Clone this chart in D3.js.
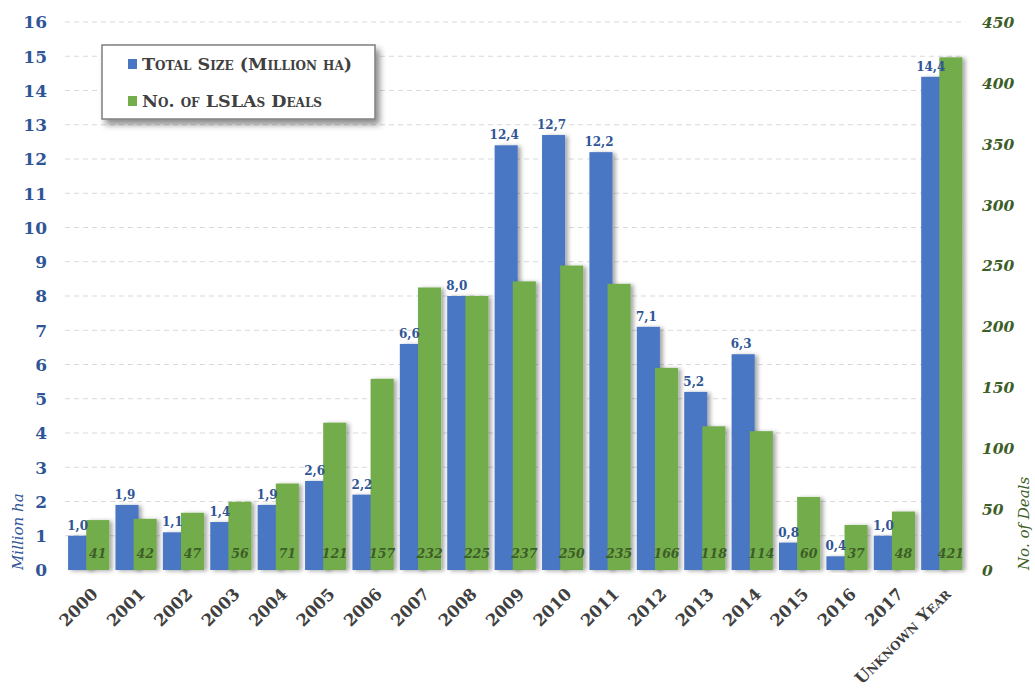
<!DOCTYPE html>
<html>
<head>
<meta charset="utf-8">
<script src="https://cdn.jsdelivr.net/npm/d3@7"></script>
<style>
  html, body { margin: 0; padding: 0; background: #ffffff; }
  svg { display: block; }
</style>
</head>
<body>
<svg id="chart" width="1035" height="688"></svg>
<script>
// Large-scale land acquisitions per year
const years = ["2000","2001","2002","2003","2004","2005","2006","2007","2008","2009",
               "2010","2011","2012","2013","2014","2015","2016","2017","Unknown Year"];
const sizeMillionHa = [1.0,1.9,1.1,1.4,1.9,2.6,2.2,6.6,8.0,12.4,12.7,12.2,7.1,5.2,6.3,0.8,0.4,1.0,14.4];
const dealCounts = [41,42,47,56,71,121,157,232,225,237,250,235,166,118,114,60,37,48,421];
const leftTicks = d3.range(0, 17);
const rightTicks = d3.range(0, 451, 50);
const seriesNames = ["Total Size (Million ha)", "No. of LSLAs Deals"];

const blue = "#4a77c4", green = "#73ad4c";
const blueText = "#2f5597", greenText = "#3d5e27", darkText = "#404040";
const serif = "'DejaVu Serif', serif";

const svg = d3.select("#chart");
const plotLeft = 65, plotRight = 965.5;
const y0 = 570, yTop = 22;

const defs = svg.append("defs");
const sh = defs.append("filter").attr("id", "barShadow")
  .attr("x", "-30%").attr("y", "-10%").attr("width", "180%").attr("height", "130%");
sh.append("feDropShadow").attr("dx", 3).attr("dy", 1).attr("stdDeviation", 2)
  .attr("flood-color", "#000").attr("flood-opacity", 0.35);
const lsh = defs.append("filter").attr("id", "boxShadow")
  .attr("x", "-10%").attr("y", "-20%").attr("width", "130%").attr("height", "160%");
lsh.append("feDropShadow").attr("dx", 4).attr("dy", 5).attr("stdDeviation", 3)
  .attr("flood-color", "#000").attr("flood-opacity", 0.45);

const x = d3.scaleBand().domain(years).range([plotLeft, plotRight]).paddingInner(0.13).paddingOuter(0.065);
const yL = d3.scaleLinear().domain([0, 16]).range([y0, yTop]);
const yR = d3.scaleLinear().domain([0, 450]).range([y0, yTop]);

// gridlines
svg.append("g").selectAll("line").data(leftTicks.filter(d => d > 0)).join("line")
  .attr("x1", plotLeft).attr("x2", plotRight)
  .attr("y1", d => yL(d)).attr("y2", d => yL(d))
  .attr("stroke", "#d9d9d9").attr("stroke-width", 1).attr("stroke-dasharray", "5,4");

// baseline
svg.append("line").attr("x1", plotLeft).attr("x2", plotRight)
  .attr("y1", y0 + 0.5).attr("y2", y0 + 0.5)
  .attr("stroke", "#bfbfbf").attr("stroke-width", 2).attr("filter", "url(#barShadow)");

// bars: green overlaps the right part of blue
const bw = x.bandwidth();
const barW = bw * 0.56;
const offs = bw - barW;
const groups = svg.append("g").selectAll("g").data(years).join("g");
groups.append("rect")
  .attr("x", d => x(d)).attr("width", barW)
  .attr("y", (d, i) => yL(sizeMillionHa[i]))
  .attr("height", (d, i) => y0 - yL(sizeMillionHa[i]))
  .attr("fill", blue).attr("filter", "url(#barShadow)");
groups.append("rect")
  .attr("x", d => x(d) + offs).attr("width", barW)
  .attr("y", (d, i) => yR(dealCounts[i]))
  .attr("height", (d, i) => y0 - yR(dealCounts[i]))
  .attr("fill", green).attr("filter", "url(#barShadow)");

// value labels
const fmt = v => v.toFixed(1).replace(".", ",");
svg.append("g").selectAll("text").data(years).join("text")
  .attr("x", d => x(d) + offs / 2 + 0.5)
  .attr("y", (d, i) => yL(sizeMillionHa[i]) - 6)
  .attr("text-anchor", "middle")
  .attr("font-family", serif).attr("font-weight", "bold").attr("font-size", 12)
  .attr("fill", blueText)
  .text((d, i) => fmt(sizeMillionHa[i]));
svg.append("g").selectAll("text").data(years).join("text")
  .attr("x", d => x(d) + offs + barW / 2)
  .attr("y", y0 - 12)
  .attr("text-anchor", "middle")
  .attr("font-family", serif).attr("font-style", "italic").attr("font-weight", "bold").attr("font-size", 12.5)
  .attr("fill", greenText)
  .text((d, i) => dealCounts[i]);

// left axis
const axL = d3.axisLeft(yL).tickValues(leftTicks).tickSize(0).tickPadding(0);
const gL = svg.append("g").attr("transform", "translate(47,0)").call(axL);
gL.select(".domain").remove();
gL.selectAll("text").attr("font-family", serif).attr("font-weight", "bold")
  .attr("font-size", 17).attr("fill", blueText).attr("dy", "0.35em");

// right axis
const axR = d3.axisRight(yR).tickValues(rightTicks).tickSize(0).tickPadding(0);
const gR = svg.append("g").attr("transform", "translate(982,0)").call(axR);
gR.select(".domain").remove();
gR.selectAll("text").attr("font-family", serif).attr("font-weight", "bold").attr("font-style", "italic")
  .attr("font-size", 15.5).attr("fill", greenText).attr("dy", "0.35em");

// x axis: category labels slanted at 45 degrees
const axX = d3.axisBottom(x).tickSize(0).tickPadding(0);
const gX = svg.append("g").attr("transform", `translate(0,${y0})`).call(axX);
gX.select(".domain").remove();
gX.selectAll(".tick text")
  .attr("x", 0).attr("y", 0).attr("dy", "0.35em")
  .attr("text-anchor", "end")
  .attr("transform", "translate(6,21) rotate(-45)")
  .attr("font-family", serif).attr("font-weight", "bold").attr("font-size", 16.5)
  .attr("font-variant", "small-caps").attr("fill", darkText);

// axis titles
svg.append("text").attr("transform", "translate(23,570) rotate(-90)")
  .attr("text-anchor", "start").attr("font-family", serif).attr("font-style", "italic")
  .attr("font-size", 15).attr("fill", blueText).text("Million ha");
svg.append("text").attr("transform", "translate(1029,570) rotate(-90)")
  .attr("text-anchor", "start").attr("font-family", serif).attr("font-style", "italic")
  .attr("font-size", 15).attr("fill", greenText).text("No. of Deals");

// legend
const lg = svg.append("g").attr("transform", "translate(102,45)");
lg.append("rect").attr("width", 273).attr("height", 74).attr("fill", "#fff")
  .attr("stroke", "#7f7f7f").attr("stroke-width", 1.5).attr("filter", "url(#boxShadow)");
const items = lg.selectAll("g.item").data(seriesNames).join("g").attr("class", "item")
  .attr("transform", (d, i) => `translate(26,${19 + i * 37})`);
items.append("rect").attr("x", 0).attr("y", -5).attr("width", 9).attr("height", 10)
  .attr("fill", (d, i) => i === 0 ? blue : green);
items.append("text").attr("x", 14).attr("y", 0).attr("dy", "0.35em")
  .attr("font-family", serif).attr("font-weight", "bold").attr("font-size", 17.5)
  .attr("font-variant", "small-caps").attr("fill", darkText)
  .text(d => d);
</script>
</body>
</html>
